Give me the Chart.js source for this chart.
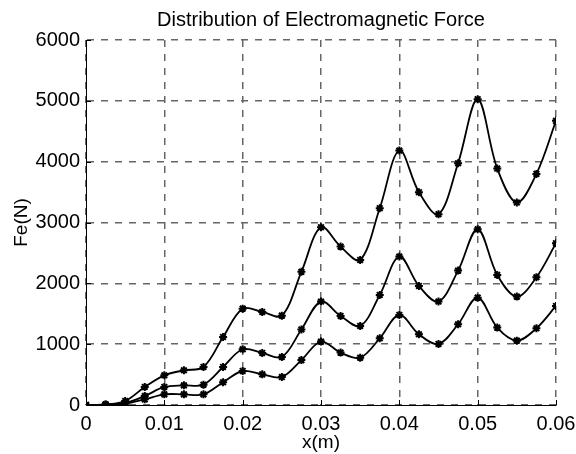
<!DOCTYPE html>
<html>
<head>
<meta charset="utf-8">
<script src="https://cdn.jsdelivr.net/npm/chart.js@4/dist/chart.umd.min.js"></script>
<style>
  html, body { margin: 0; padding: 0; background: #fff; }
  #wrap { width: 576px; height: 454px; }
</style>
</head>
<body>
<div id="wrap"><canvas id="forceChart" width="576" height="454"></canvas></div>
<script>
// x positions along the part (m)
const xPositions = [0, 0.0025, 0.005, 0.0075, 0.01, 0.0125, 0.015, 0.0175, 0.02, 0.0225,
    0.025, 0.0275, 0.03, 0.0325, 0.035, 0.0375, 0.04, 0.0425, 0.045, 0.0475,
    0.05, 0.0525, 0.055, 0.0575, 0.06];

// force values (N) for the three curves
const forceHigh = [0, 10, 66, 296, 488, 570, 625, 1118, 1584, 1530,
    1469, 2190, 2922, 2604, 2385, 3235, 4183, 3498, 3136, 3975,
    5027, 3887, 3328, 3799, 4671];
const forceMid = [0, 5, 33, 148, 296, 323, 334, 625, 916, 855,
    789, 1242, 1700, 1464, 1299, 1809, 2440, 1957, 1700, 2209,
    2889, 2138, 1782, 2100, 2659];
const forceLow = [0, 3, 20, 93, 175, 175, 175, 373, 559, 504,
    460, 738, 1042, 861, 778, 1096, 1480, 1162, 1003, 1327,
    1765, 1272, 1058, 1261, 1628];

const xTicks = [0, 0.01, 0.02, 0.03, 0.04, 0.05, 0.06];
const yTicks = [0, 1000, 2000, 3000, 4000, 5000, 6000];

const chartTitle = 'Distribution of Electromagnetic Force';
const fontFamily = '"Liberation Sans", Arial, Helvetica, sans-serif';

function makeSeries(values) {
    return {
        data: values.map((v, i) => ({ x: xPositions[i], y: v })),
        borderColor: '#000',
        backgroundColor: '#000',
        borderWidth: 1.8,
        tension: 0.35,
        pointStyle: 'star',
        pointRadius: 4,
        pointBorderWidth: 2,
        pointBorderColor: '#000',
        fill: false
    };
}

// small inward tick marks like the original axes, and a title centred on the plot
const axesExtras = {
    id: 'axesExtras',
    afterDraw(chart) {
        const ctx = chart.ctx;
        const xs = chart.scales.x;
        const ys = chart.scales.y;
        ctx.save();
        ctx.strokeStyle = '#000';
        ctx.lineWidth = 1;
        ctx.beginPath();
        xTicks.forEach(t => {
            const px = Math.round(xs.getPixelForValue(t)) + 0.5;
            ctx.moveTo(px, ys.bottom);
            ctx.lineTo(px, ys.bottom - 5);
        });
        yTicks.forEach(t => {
            const py = Math.round(ys.getPixelForValue(t)) + 0.5;
            ctx.moveTo(xs.left, py);
            ctx.lineTo(xs.left + 5, py);
        });
        ctx.stroke();

        ctx.fillStyle = '#000';
        ctx.font = '20px ' + fontFamily;
        ctx.textAlign = 'center';
        ctx.textBaseline = 'alphabetic';
        const area = chart.chartArea;
        ctx.fillText(chartTitle, (area.left + area.right) / 2, 26);
        ctx.restore();
    }
};

const gridStyle = {
    color: '#666',
    lineWidth: 1.5,
    drawTicks: false
};

const borderStyle = { display: true, color: '#000', width: 1, dash: [7, 7] };

new Chart(document.getElementById('forceChart').getContext('2d'), {
    type: 'line',
    data: {
        datasets: [makeSeries(forceHigh), makeSeries(forceMid), makeSeries(forceLow)]
    },
    options: {
        responsive: false,
        animation: false,
        layout: { padding: { left: 0, right: 20, top: 40, bottom: 0 } },
        plugins: {
            legend: { display: false },
            tooltip: { enabled: false },
            title: { display: false }
        },
        scales: {
            x: {
                type: 'linear',
                min: 0,
                max: 0.06,
                afterBuildTicks: axis => { axis.ticks = xTicks.map(v => ({ value: v })); },
                afterFit: axis => {
                    axis.height = 49;
                    axis.paddingLeft = 0;
                    axis.paddingRight = 0;
                },
                grid: gridStyle,
                border: borderStyle,
                ticks: {
                    color: '#000',
                    padding: 7,
                    maxRotation: 0,
                    font: { family: fontFamily, size: 20 },
                    callback: v => String(+v.toFixed(2))
                },
                title: {
                    display: true,
                    text: 'x(m)',
                    color: '#000',
                    font: { family: fontFamily, size: 19, lineHeight: 1.2 },
                    padding: { top: 0, bottom: 0 }
                }
            },
            y: {
                type: 'linear',
                min: 0,
                max: 6000,
                afterBuildTicks: axis => { axis.ticks = yTicks.map(v => ({ value: v })); },
                afterFit: axis => {
                    axis.width = 86;
                    axis.paddingTop = 0;
                    axis.paddingBottom = 0;
                },
                grid: gridStyle,
                border: borderStyle,
                ticks: {
                    color: '#000',
                    padding: 6,
                    font: { family: fontFamily, size: 20 },
                    callback: v => String(v)
                },
                title: {
                    display: true,
                    text: 'Fe(N)',
                    color: '#000',
                    font: { family: fontFamily, size: 19, lineHeight: 1.2 },
                    padding: { top: 10.6, bottom: 0 }
                }
            }
        }
    },
    plugins: [axesExtras]
});
</script>
</body>
</html>
